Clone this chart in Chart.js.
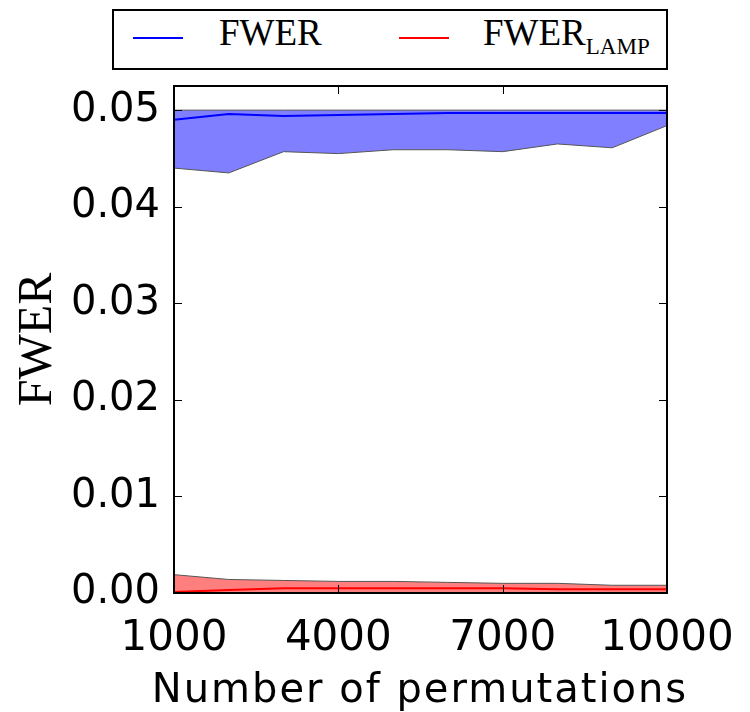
<!DOCTYPE html>
<html lang="en">
<head>
<meta charset="UTF-8">
<title>FWER vs number of permutations</title>
<script src="https://cdn.jsdelivr.net/npm/chart.js"></script>
<style>
    body { margin: 0; background: #fff; }
    #wrap { position: relative; width: 750px; height: 712px; }
    #legend {
        position: absolute; left: 112px; top: 9px; width: 552px; height: 57px;
        border: 2px solid #000; background: #fff;
        font-family: "Liberation Serif", "DejaVu Serif", serif; font-size: 37px; color: #000;
    }
    .key { position: absolute; top: 26px; height: 2px; width: 50px; }
    .lbl { position: absolute; top: 0px; line-height: 44px; white-space: nowrap; }
    .lbl sub { font-size: 23px; vertical-align: -9px; line-height: 0; }
    #xtitle {
        position: absolute; left: 120px; width: 600px; top: 668px; text-align: center;
        font-family: "DejaVu Sans", sans-serif; font-size: 40px; line-height: 40px;
        letter-spacing: 2px; color: #000; white-space: nowrap;
    }
</style>
</head>
<body>
<div id="wrap">
    <canvas id="chart" width="750" height="712"></canvas>
    <div id="legend">
        <div class="key" style="left:19px; background:#0000ff"></div>
        <div class="lbl" style="left:105px">FWER</div>
        <div class="key" style="left:285px; background:#ff0000"></div>
        <div class="lbl" style="left:369px">FWER<sub>LAMP</sub></div>
    </div>
    <div id="xtitle">Number of permutations</div>
</div>
<script>
    const perms = [1000, 2000, 3000, 4000, 5000, 6000, 7000, 8000, 9000, 10000];

    const fwerMean = [0.0490, 0.0496, 0.0494, 0.0495, 0.0496, 0.0497, 0.0497, 0.0497, 0.0497, 0.0497];
    const fwerLow  = [0.0440, 0.0435, 0.0457, 0.0455, 0.0459, 0.0459, 0.0457, 0.0465, 0.0461, 0.0484];
    const fwerHigh = [0.0500, 0.0500, 0.0500, 0.0500, 0.0500, 0.0500, 0.0500, 0.0500, 0.0500, 0.0500];

    const lampMean = [0.0001, 0.0003, 0.0005, 0.0005, 0.0005, 0.0005, 0.0005, 0.0004, 0.0004, 0.0004];
    const lampLow  = [0, 0, 0, 0, 0, 0, 0, 0, 0, 0];
    const lampHigh = [0.0019, 0.0014, 0.0013, 0.0012, 0.0012, 0.0011, 0.0010, 0.0010, 0.0008, 0.0008];

    const xTicks = [1000, 4000, 7000, 10000];
    const yTicks = [0, 0.01, 0.02, 0.03, 0.04, 0.05];

    function pts(arr) {
        return perms.map((p, i) => ({ x: p, y: arr[i] }));
    }

    // frame round the plot plus inward ticks on all four sides
    const frame = {
        id: 'frame',
        afterDatasetsDraw(chart) {
            const { ctx, chartArea: a, scales } = chart;
            const len = 8;
            ctx.save();
            ctx.strokeStyle = '#000';
            ctx.lineWidth = 1;
            ctx.beginPath();
            scales.x.ticks.forEach(t => {
                const px = Math.round(scales.x.getPixelForValue(t.value)) + 0.5;
                ctx.moveTo(px, a.bottom); ctx.lineTo(px, a.bottom - len);
                ctx.moveTo(px, a.top); ctx.lineTo(px, a.top + len);
            });
            scales.y.ticks.forEach(t => {
                const py = Math.round(scales.y.getPixelForValue(t.value)) + 0.5;
                ctx.moveTo(a.left, py); ctx.lineTo(a.left + len, py);
                ctx.moveTo(a.right, py); ctx.lineTo(a.right - len, py);
            });
            ctx.stroke();
            ctx.lineWidth = 2;
            ctx.strokeRect(a.left, a.top, a.right - a.left, a.bottom - a.top);
            ctx.restore();
        }
    };

    new Chart(document.getElementById('chart'), {
        type: 'line',
        data: {
            datasets: [
                { data: pts(fwerMean), borderColor: '#0000ff', borderWidth: 2, fill: false },
                { data: pts(fwerLow), borderColor: '#555555', borderWidth: 1, fill: false },
                { data: pts(fwerHigh), borderColor: '#555555', borderWidth: 1, fill: '-1', backgroundColor: 'rgba(0,0,255,0.5)' },
                { data: pts(lampMean), borderColor: '#ff0000', borderWidth: 2, fill: false },
                { data: pts(lampLow), borderColor: '#555555', borderWidth: 1, fill: false },
                { data: pts(lampHigh), borderColor: '#555555', borderWidth: 1, fill: '-1', backgroundColor: 'rgba(255,0,0,0.5)' }
            ]
        },
        options: {
            responsive: false,
            animation: false,
            devicePixelRatio: 1,
            elements: { point: { radius: 0 }, line: { tension: 0 } },
            layout: { padding: { top: 86, right: 83, left: 0, bottom: 0 } },
            plugins: { legend: { display: false }, tooltip: { enabled: false } },
            scales: {
                x: {
                    type: 'linear',
                    min: 1000,
                    max: 10000,
                    afterBuildTicks: s => { s.ticks = xTicks.map(v => ({ value: v })); },
                    afterFit: s => { s.height = 119; },
                    grid: { display: false },
                    border: { display: false },
                    ticks: { font: { family: 'DejaVu Sans', size: 42 }, color: '#000', padding: 13, maxRotation: 0, callback: v => String(v) }
                },
                y: {
                    min: 0,
                    max: 0.0525,
                    afterBuildTicks: s => { s.ticks = yTicks.map(v => ({ value: v })); },
                    afterFit: s => { s.width = 174; },
                    grid: { display: false },
                    border: { display: false },
                    ticks: { font: { family: 'DejaVu Sans', size: 40 }, color: '#000', padding: 6, callback: v => v.toFixed(2) },
                    title: {
                        display: true, text: 'FWER', color: '#000',
                        font: { family: 'Liberation Serif', size: 48 },
                        padding: { top: 10, bottom: 0 }
                    }
                }
            }
        },
        plugins: [frame]
    });
</script>
</body>
</html>
